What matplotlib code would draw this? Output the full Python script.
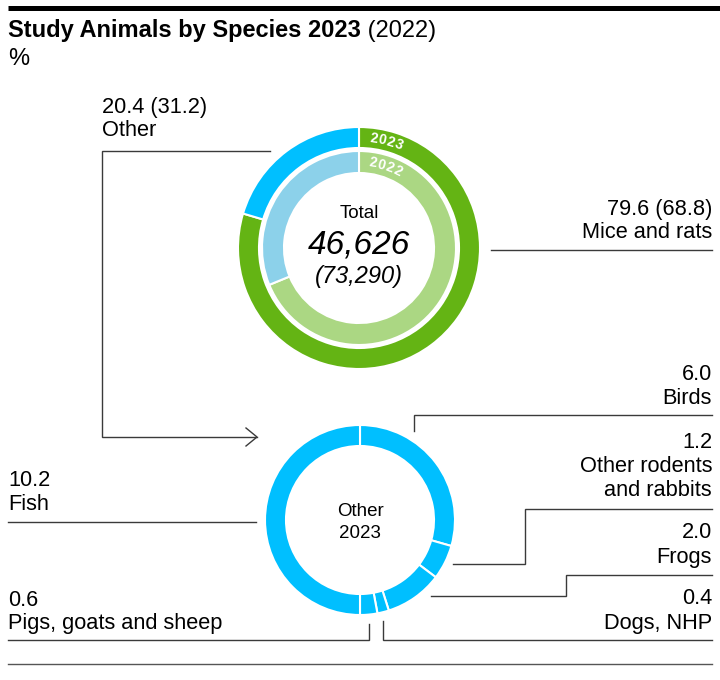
import matplotlib.pyplot as plt
import numpy as np

plt.rcParams['font.family'] = ['Liberation Sans', 'DejaVu Sans']

# data
total_2023 = '46,626'
total_2022 = '73,290'
main_names = ['Mice and rats', 'Other']
share_2023 = [79.6, 20.4]
share_2022 = [68.8, 31.2]
other_names = ['Birds', 'Other rodents\nand rabbits', 'Frogs', 'Dogs, NHP',
               'Pigs, goats and sheep', 'Fish']
other_2023 = [6.0, 1.2, 2.0, 0.4, 0.6, 10.2]

green = '#64b414'
green_lt = '#abd783'
blue = '#00bfff'
blue_lt = '#8cd1ea'
line_c = '#3a3a3a'

W, H = 720, 680
fig = plt.figure(figsize=(7.2, 6.8), dpi=100)
ax = fig.add_axes([0, 0, 1, 1])


def Y(y):
    # pixel rows from the top -> data y
    return H - y


# main donut, 2023 outside, 2022 inside
cx1, cy1 = 359, Y(248)
ax.pie(share_2023, radius=121, center=(cx1, cy1), startangle=90, counterclock=False,
       colors=[green, blue], wedgeprops=dict(width=21, edgecolor='white', linewidth=1.5))
ax.pie(share_2022, radius=97, center=(cx1, cy1), startangle=90, counterclock=False,
       colors=[green_lt, blue_lt], wedgeprops=dict(width=22, edgecolor='white', linewidth=1.5))

# other donut
cx2, cy2 = 360, Y(520)
ax.pie(other_2023, radius=95, center=(cx2, cy2), startangle=90, counterclock=False,
       colors=[blue] * len(other_2023), wedgeprops=dict(width=21, edgecolor='white', linewidth=1.5))

ax.set_xlim(0, W)
ax.set_ylim(0, H)
ax.set_aspect('equal')
ax.axis('off')


def arc_text(txt, cx, cy, r, a0, step):
    for i, ch in enumerate(txt):
        a = np.radians(a0 + i * step)
        ax.text(cx + r * np.sin(a), cy + r * np.cos(a), ch, rotation=-np.degrees(a),
                ha='center', va='center', rotation_mode='anchor',
                color='white', fontsize=10, fontweight='bold')


arc_text('2023', cx1, cy1, 110.5, 7.5, 4.6)
arc_text('2022', cx1, cy1, 86, 9.0, 5.8)

# centre texts
ax.text(cx1, Y(213), 'Total', ha='center', va='center', fontsize=13.5)
ax.text(cx1, Y(245), total_2023, ha='center', va='center', fontsize=24, style='italic')
ax.text(cx1, Y(277), '(' + total_2022 + ')', ha='center', va='center', fontsize=17, style='italic')
ax.text(cx2, Y(511), 'Other', ha='center', va='center', fontsize=13.5)
ax.text(cx2, Y(534), '2023', ha='center', va='center', fontsize=13.5)

# title
ax.plot([8, 720], [Y(7.5), Y(7.5)], color='black', lw=3.6, solid_capstyle='butt')
t = ax.text(8, Y(30), 'Study Animals by Species 2023', fontsize=17, fontweight='bold', va='center')
ax.annotate(' (2022)', xy=(1, 0), xycoords=t, va='bottom', fontsize=17)
ax.text(8, Y(59), '%', fontsize=17, va='center')


def label(x, y0, lines, ha='left'):
    for i, s in enumerate(lines):
        ax.text(x, Y(y0 + 24 * i), s, ha=ha, va='center', fontsize=15.7)


def leader(pts):
    xs = [p[0] for p in pts]
    ys = [Y(p[1]) for p in pts]
    ax.plot(xs, ys, color=line_c, lw=1.0, solid_joinstyle='miter')


# main labels
label(102, 107, ['%.1f (%.1f)' % (share_2023[1], share_2022[1]), main_names[1]])
label(712, 209, ['%.1f (%.1f)' % (share_2023[0], share_2022[0]), main_names[0]], ha='right')
leader([(270, 151), (102, 151), (102, 437), (257, 437)])
leader([(246, 428), (257, 437), (246, 446)])
leader([(491, 250), (712, 250)])

# other labels
right_y = [375, 442, 533, 599]
for k in range(4):
    label(712, right_y[k], ['%.1f' % other_2023[k]] + other_names[k].split('\n'), ha='right')
label(8, 600, ['%.1f' % other_2023[4], other_names[4]])
label(8, 480, ['%.1f' % other_2023[5], other_names[5]])

leader([(414, 431), (414, 415), (712, 415)])
leader([(453, 564), (525, 564), (525, 509), (712, 509)])
leader([(431, 596), (566, 596), (566, 575), (712, 575)])
leader([(383, 621), (383, 640), (712, 640)])
leader([(8, 522), (256, 522)])
leader([(8, 640), (369, 640), (369, 624)])
ax.plot([8, 712], [Y(664), Y(664)], color='#555555', lw=1.0)

fig.savefig('out.png', dpi=100)
